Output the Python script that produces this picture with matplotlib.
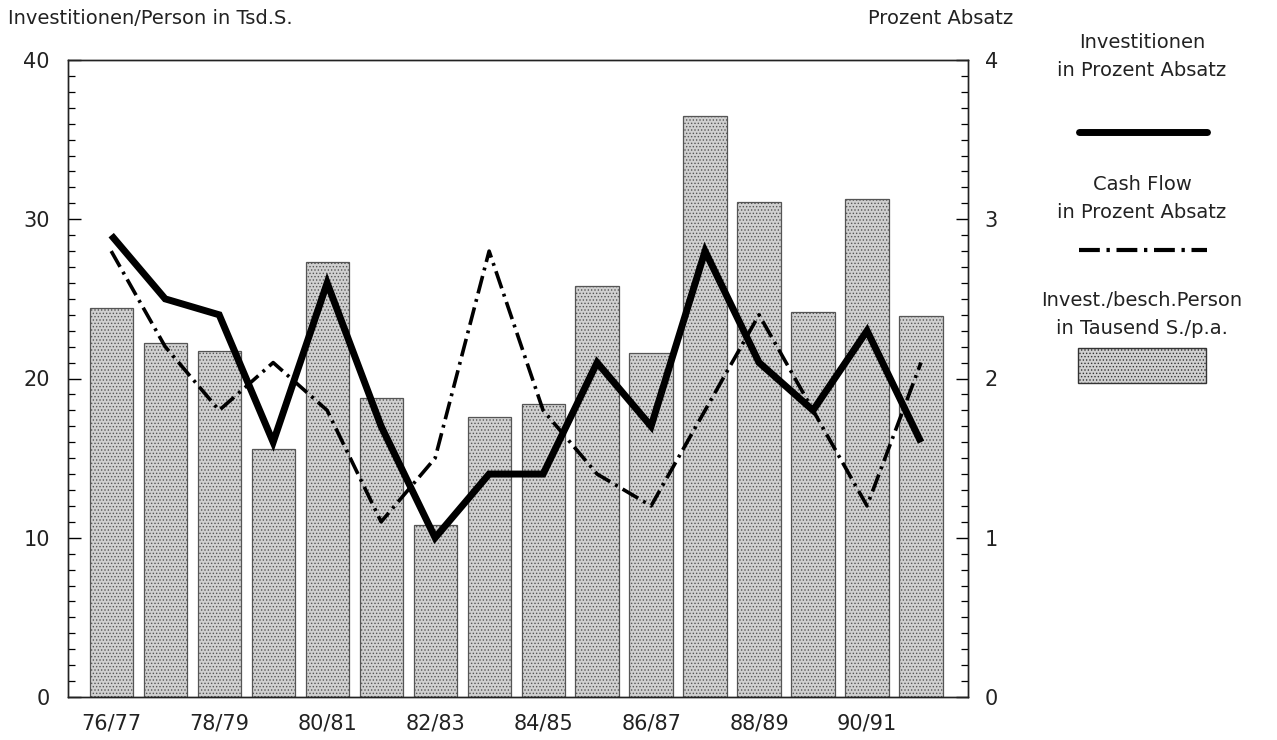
import matplotlib
matplotlib.use("Agg")
import matplotlib.pyplot as plt
from matplotlib.patches import Rectangle
from matplotlib.lines import Line2D
from matplotlib.ticker import MultipleLocator

years = ["76/77", "77/78", "78/79", "79/80", "80/81", "81/82", "82/83", "83/84",
         "84/85", "85/86", "86/87", "87/88", "88/89", "89/90", "90/91", "91/92"]
invest_person = [24.4, 22.2, 21.7, 15.6, 27.3, 18.8, 10.8, 17.6,
                 18.4, 25.8, 21.6, 36.5, 31.1, 24.2, 31.3, 23.9]
invest_pct = [2.9, 2.5, 2.4, 1.6, 2.6, 1.7, 1.0, 1.4,
              1.4, 2.1, 1.7, 2.8, 2.1, 1.8, 2.3, 1.6]
cashflow_pct = [2.8, 2.2, 1.8, 2.1, 1.8, 1.1, 1.5, 2.8,
                1.8, 1.4, 1.2, 1.8, 2.4, 1.8, 1.2, 2.1]

plt.rcParams['font.family'] = ['DejaVu Sans']
plt.rcParams['hatch.color'] = '#7a7a7a'
plt.rcParams['hatch.linewidth'] = 0.6
txt = '#222222'
fs = 14

fig = plt.figure(figsize=(12.77, 7.40), dpi=100)
ax = fig.add_axes([68/1277, 43/740, 900/1277, 637/740])
x = list(range(len(years)))

ax.bar(x, invest_person, width=0.8, color='#d0d0d0', edgecolor='#555555',
       linewidth=0.9, hatch='.....', zorder=2)
ax.set_xlim(-0.8, 15.87)
ax.set_ylim(0, 40)
ax.yaxis.set_major_locator(MultipleLocator(10))
ax.yaxis.set_minor_locator(MultipleLocator(1))
ax.set_xticks(x[::2])
ax.set_xticklabels(years[::2], fontsize=15, color=txt)
ax.tick_params(axis='x', length=0, pad=12)
ax.tick_params(axis='y', which='major', direction='in', length=9, width=1.0,
               labelsize=15, labelcolor=txt, pad=13)
ax.tick_params(axis='y', which='minor', direction='in', length=5, width=0.9)
for s in ax.spines.values():
    s.set_linewidth(1.0)
    s.set_color('#222222')

ax2 = ax.twinx()
ax2.set_ylim(0, 4)
ax2.plot(x, invest_pct, color='black', linewidth=5.0, solid_joinstyle='miter',
         solid_capstyle='butt', zorder=4)
ax2.plot(x, cashflow_pct, color='black', linewidth=2.6,
         dashes=(5, 1.6, 0.8, 1.6), zorder=3)
ax2.yaxis.set_major_locator(MultipleLocator(1))
ax2.yaxis.set_minor_locator(MultipleLocator(0.1))
ax2.tick_params(axis='y', which='major', direction='in', length=9, width=1.0,
                labelsize=15, labelcolor=txt, pad=12)
ax2.tick_params(axis='y', which='minor', direction='in', length=5, width=0.9)
for s in ax2.spines.values():
    s.set_linewidth(1.0)
    s.set_color('#222222')

W, H = 1277, 740
def fx(px): return px / W
def fy(py): return 1 - py / H

fig.text(fx(8), fy(18), "Investitionen/Person in Tsd.S.", fontsize=fs,
         color=txt, ha='left', va='center')
fig.text(fx(1013), fy(18), "Prozent Absatz", fontsize=fs,
         color=txt, ha='right', va='center')

cx = 1142
fig.text(fx(cx), fy(42), "Investitionen", fontsize=fs, color=txt, ha='center', va='center')
fig.text(fx(cx), fy(70), "in Prozent Absatz", fontsize=fs, color=txt, ha='center', va='center')
fig.add_artist(Line2D([fx(1079), fx(1207)], [fy(132), fy(132)], color='black',
                      linewidth=5.0, solid_capstyle='round', transform=fig.transFigure))
fig.text(fx(cx), fy(184), "Cash Flow", fontsize=fs, color=txt, ha='center', va='center')
fig.text(fx(cx), fy(212), "in Prozent Absatz", fontsize=fs, color=txt, ha='center', va='center')
fig.add_artist(Line2D([fx(1079), fx(1207)], [fy(250), fy(250)], color='black',
                      linewidth=3.0, dashes=(5, 1.6, 0.8, 1.6),
                      transform=fig.transFigure))
fig.text(fx(cx), fy(301), "Invest./besch.Person", fontsize=fs, color=txt, ha='center', va='center')
fig.text(fx(cx), fy(329), "in Tausend S./p.a.", fontsize=fs, color=txt, ha='center', va='center')
fig.add_artist(Rectangle((fx(1078), fy(383)), fx(1206) - fx(1078), fy(348) - fy(383),
                         facecolor='#d0d0d0', edgecolor='#333333', linewidth=1.0,
                         hatch='.....', transform=fig.transFigure))

fig.savefig("out.png", dpi=100)
